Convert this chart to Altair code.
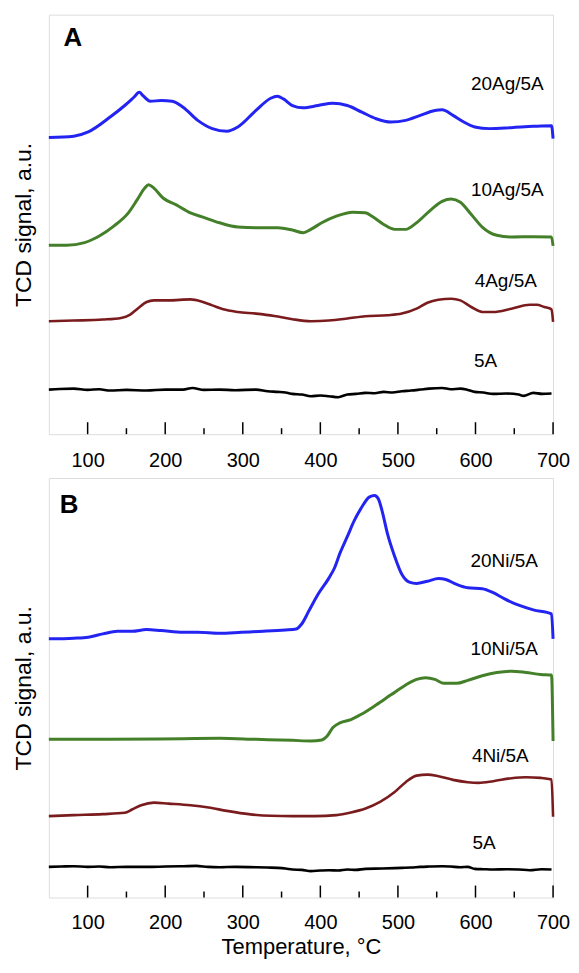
import altair as alt
import pandas as pd

# ---------------- Panel A (Ag) ----------------
a20_t = [50, 82, 100.8, 129, 147.8, 159.6, 166.6, 171.3, 180.7, 194.9, 209, 223, 241.9, 260.7, 279.5, 293.6, 317, 336, 344.4, 352.4, 364, 378, 397, 416, 434.7, 453.5, 472, 491, 510, 528.8, 547.6, 557, 571, 585, 599, 618, 646, 674.6, 698, 700]
a20_v = [898, 902, 915, 960, 995, 1020, 1035, 1025, 1008, 1010, 1008, 990, 950, 925, 917, 930, 980, 1017, 1023, 1015, 995, 988, 995, 1002, 995, 975, 955, 945, 950, 965, 980, 982, 965, 945, 930, 925, 928, 932, 934, 895]

a10_t = [50, 72.6, 96, 115, 133.7, 152.5, 164, 173.7, 178.4, 185.4, 197.2, 213.7, 232.5, 251.3, 270, 293.6, 317, 345.3, 364, 378, 387.7, 401.8, 420.6, 441.8, 458, 467.6, 481.7, 495.8, 510, 524, 542.9, 557, 568.7, 580.5, 594.6, 608.7, 627.5, 646.3, 674.5, 698, 700]
a10_v = [572, 572, 580, 600, 630, 670, 710, 745, 755, 745, 715, 695, 670, 655, 640, 627, 625, 625, 618, 610, 620, 640, 660, 672, 670, 658, 635, 620, 620, 640, 680, 705, 712, 702, 665, 627, 602, 597, 598, 597, 570]

a4_t = [50, 82, 119.6, 143, 154.9, 164.3, 176, 185.4, 204.3, 232.5, 246.6, 260.7, 274.8, 293.6, 317, 340.6, 364, 387.7, 411, 434.7, 458, 486.4, 505, 524, 538, 552, 568.7, 580.5, 594.6, 608.7, 622.8, 646.3, 669.9, 679, 688.7, 698, 700]
a4_v = [342, 344, 347, 352, 362, 380, 400, 405, 405, 408, 402, 390, 378, 370, 365, 358, 348, 342, 344, 350, 357, 360, 365, 380, 398, 407, 410, 405, 385, 370, 370, 380, 392, 392, 385, 378, 340]

a5_t = [50, 64, 82, 100, 115, 129, 150, 176, 200, 223, 235, 250, 270, 290, 317, 332, 345, 355, 364, 376, 387.7, 400, 411, 423, 434.7, 446, 458, 470, 481.7, 493, 505, 517, 528.8, 540, 557, 568, 580.5, 590, 599, 610, 622.8, 640, 655.7, 662, 674.5, 686, 698]
a5_v = [135, 137, 138, 134, 136, 132, 134, 132, 135, 135, 140, 134, 135, 133, 135, 130, 128, 126, 122, 120, 115, 117, 115, 112, 120, 122, 125, 124, 128, 126, 130, 132, 135, 138, 140, 136, 138, 134, 128, 126, 122, 123, 120, 116, 125, 122, 123]

# ---------------- Panel B (Ni) ----------------
b20_t = [50, 82, 100.8, 119.6, 138.4, 157.2, 176, 194.9, 223, 241.9, 270, 298.3, 326.5, 354.8, 368.9, 375.9, 385.3, 397, 411.2, 418.2, 425.3, 434.7, 444, 453.5, 463, 470, 474.7, 479.4, 486.4, 495.8, 505.2, 514.7, 524, 538.2, 552.3, 561.7, 575.8, 590, 608.7, 622.8, 636.9, 655.7, 674.5, 698, 700]
b20_v = [785, 787, 790, 800, 808, 808, 813, 810, 805, 805, 802, 805, 808, 812, 815, 830, 870, 920, 970, 1000, 1045, 1095, 1145, 1185, 1215, 1220, 1210, 1175, 1105, 1035, 980, 957, 953, 960, 968, 965, 950, 940, 937, 925, 907, 887, 873, 861, 785]

b10_t = [50, 129, 223, 270, 317, 364, 387.7, 401.8, 408.8, 415.9, 425.3, 439.4, 453.5, 472.3, 491, 510, 524, 535.8, 547.6, 559.3, 575.8, 590, 608.7, 627.5, 646.3, 665, 684, 698, 700]
b10_v = [480, 480, 482, 483, 480, 477, 475, 478, 490, 515, 530, 540, 557, 585, 615, 645, 662, 667, 662, 650, 650, 659, 673, 683, 687, 683, 677, 675, 475]

b4_t = [50, 82, 119.6, 147.8, 157.2, 169, 185.4, 204.3, 232.5, 256, 279.5, 307.7, 336, 364, 392.4, 420.6, 439.4, 458.2, 477, 495.8, 510, 524, 538.2, 552.3, 571, 590, 604, 622.8, 646.3, 665, 684, 698, 700]
b4_v = [247, 250, 253, 257, 267, 280, 288, 285, 280, 273, 263, 253, 248, 247, 247, 250, 258, 270, 290, 320, 350, 370, 373, 368, 357, 350, 348, 353, 362, 365, 363, 358, 245]

b5_t = [50, 66, 82, 100, 115, 129, 150, 176, 200, 223, 240, 255, 270, 290, 317, 332, 345, 355, 364, 376, 387.7, 400, 411, 423, 434.7, 446, 458, 480, 505, 517, 528.8, 540, 557, 568, 580.5, 590, 599, 610, 622.8, 640, 655.7, 670, 685, 698]
b5_v = [93, 94, 95, 93, 94, 92, 93, 93, 94, 95, 96, 93, 92, 93, 92, 91, 90, 88, 85, 84, 80, 82, 83, 82, 85, 84, 87, 88, 90, 91, 93, 94, 95, 94, 92, 93, 87, 86, 85, 86, 85, 83, 86, 85]

labels_a = ["20Ag/5A", "10Ag/5A", "4Ag/5A", "5A"]
labels_a_t = [641, 641, 639, 613]
labels_a_v = [1060, 740, 465, 220]

labels_b = ["20Ni/5A", "10Ni/5A", "4Ni/5A", "5A"]
labels_b_t = [637, 637, 632, 611]
labels_b_v = [1020, 755, 430, 165]

panel_letters = ["A", "B"]
letter_t = [81, 76]
letter_v = [1200, 1190]

major_ticks = [100, 200, 300, 400, 500, 600, 700]
minor_ticks = [150, 250, 350, 450, 550, 650]

series_names = ["20", "10", "4", "5A"]
series_colors = ["#2424F2", "#44802A", "#7A1C1E", "#000000"]
series_widths = [3, 3, 2.6, 2.6]

FONT = "Liberation Sans"
W, H = 506, 421


def long_df(ts, vs):
    rows = []
    for name, t, v in zip(series_names, ts, vs):
        for ti, vi in zip(t, v):
            rows.append({"series": name, "t": ti, "v": vi})
    return pd.DataFrame(rows)


def panel(ts, vs, vmax, lab, lab_t, lab_v, letter, lt, lv, show_title):
    df = long_df(ts, vs)
    xscale = alt.Scale(domain=[50, 700], nice=False, zero=False)
    yscale = alt.Scale(domain=[0, vmax], nice=False, zero=False)
    axis_kw = dict(
        values=major_ticks, ticks=False, domain=False, grid=False,
        labelFontSize=20, labelFont=FONT, labelColor="black", labelFlush=False,
        labelPadding=15 if show_title else 16,
    )
    if show_title:
        xaxis = alt.Axis(
            title="Temperature, °C", titleFontSize=22, titleFont=FONT,
            titleFontWeight="normal", titleColor="black", titlePadding=4, **axis_kw
        )
    else:
        xaxis = alt.Axis(title=None, **axis_kw)
    yaxis = alt.Axis(
        labels=False, ticks=False, domain=False, grid=False,
        title="TCD signal, a.u.", titleFontSize=23, titleFont=FONT,
        titleFontWeight="normal", titleColor="black", titlePadding=13,
    )
    layers = []
    for name, color, w in zip(series_names, series_colors, series_widths):
        sub = df[df.series == name]
        layers.append(
            alt.Chart(sub).mark_line(color=color, strokeWidth=w, interpolate="monotone").encode(
                x=alt.X("t:Q", scale=xscale, axis=xaxis),
                y=alt.Y("v:Q", scale=yscale, axis=yaxis),
                order="t:Q",
            )
        )
    ldf = pd.DataFrame({"label": lab, "t": lab_t, "v": lab_v})
    layers.append(
        alt.Chart(ldf).mark_text(fontSize=19, font=FONT, color="black").encode(
            x=alt.X("t:Q", scale=xscale), y=alt.Y("v:Q", scale=yscale), text="label:N"
        )
    )
    pdf = pd.DataFrame({"label": [letter], "t": [lt], "v": [lv]})
    layers.append(
        alt.Chart(pdf).mark_text(fontSize=26, font=FONT, fontWeight="bold", color="black").encode(
            x=alt.X("t:Q", scale=xscale), y=alt.Y("v:Q", scale=yscale), text="label:N"
        )
    )
    mj = pd.DataFrame({"t": major_ticks})
    mn = pd.DataFrame({"t": minor_ticks})
    layers.append(
        alt.Chart(mj).mark_rule(color="black", strokeWidth=1.5).encode(
            x=alt.X("t:Q", scale=xscale), y=alt.value(H), y2=alt.value(H - 12)
        )
    )
    layers.append(
        alt.Chart(mn).mark_rule(color="black", strokeWidth=1.5).encode(
            x=alt.X("t:Q", scale=xscale), y=alt.value(H), y2=alt.value(H - 6)
        )
    )
    return alt.layer(*layers).properties(width=W, height=H)


pa = panel([a20_t, a10_t, a4_t, a5_t], [a20_v, a10_v, a4_v, a5_v], 1270,
           labels_a, labels_a_t, labels_a_v, panel_letters[0], letter_t[0], letter_v[0], False)
pb = panel([b20_t, b10_t, b4_t, b5_t], [b20_v, b10_v, b4_v, b5_v], 1273,
           labels_b, labels_b_t, labels_b_v, panel_letters[1], letter_t[1], letter_v[1], True)

chart = alt.vconcat(pa, pb, spacing=6).properties(
    padding={"left": 4, "top": 4, "right": 0, "bottom": 0}
).configure_view(
    stroke="black", strokeWidth=2
).configure(background="white")

chart.save("out.html", embed_options={"renderer": "svg", "actions": False})
